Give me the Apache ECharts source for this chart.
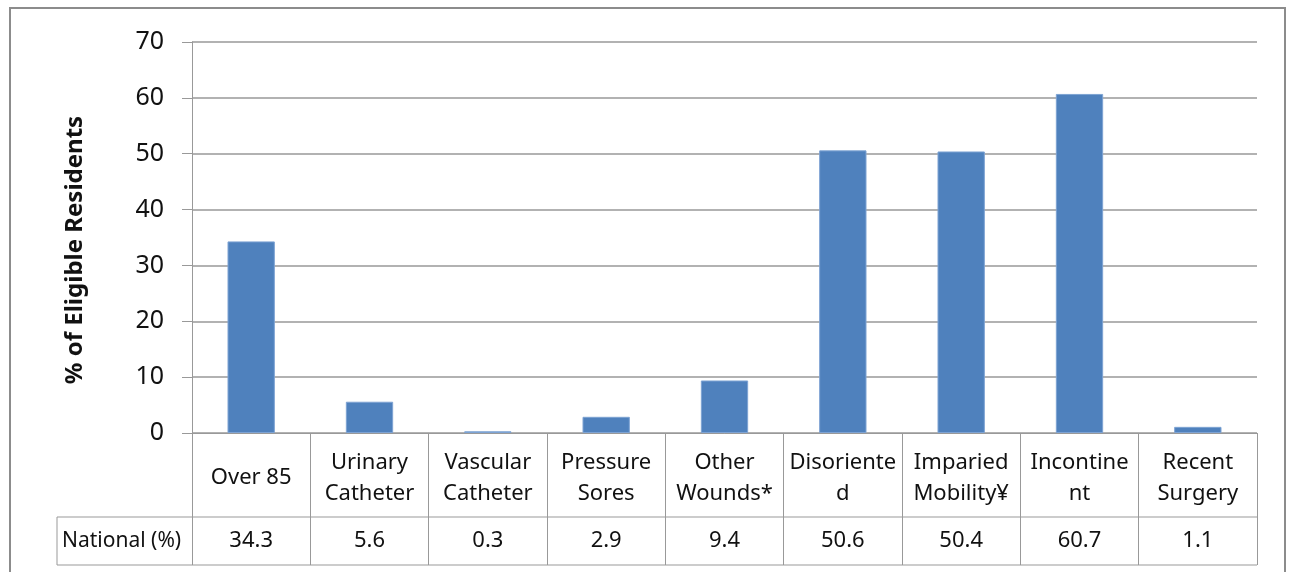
<!DOCTYPE html>
<html>
<head>
<meta charset="utf-8">
<script src="https://cdn.jsdelivr.net/npm/echarts@6/dist/echarts.min.js"></script>
<style>
  html, body { margin: 0; padding: 0; background: #ffffff; }
  #chart { width: 1290px; height: 572px; }
</style>
</head>
<body>
<div id="chart"></div>
<script>
// Resident characteristics, national share (%)
const categories = [
  'Over 85', 'Urinary Catheter', 'Vascular Catheter', 'Pressure Sores',
  'Other Wounds*', 'Disoriented', 'Imparied Mobility¥', 'Incontinent', 'Recent Surgery'
];
// Category text as wrapped in the table header cells
const categoryLabels = [
  'Over 85', 'Urinary\nCatheter', 'Vascular\nCatheter', 'Pressure\nSores',
  'Other\nWounds*', 'Disoriente\nd', 'Imparied\nMobility¥', 'Incontine\nnt', 'Recent\nSurgery'
];
const nationalPct = [34.3, 5.6, 0.3, 2.9, 9.4, 50.6, 50.4, 60.7, 1.1];
const rowTitle = 'National (%)';
const yTitle = '% of Eligible Residents';
const yMin = 0, yMax = 70, yStep = 10;

const FONT = '"Noto Sans", "Open Sans", sans-serif';
const LINE = '#999999';
const TEXT = '#111111';

const chart = echarts.init(document.getElementById('chart'), null, { renderer: 'canvas' });

// Plot box
const gridLeft = 192, gridRight = 33, gridTop = 42, gridBottom = 139;
const plotRight = 1290 - gridRight;      // 1257
const axisY = 572 - gridBottom;          // 433
const headerH = 84, valueRowH = 48;
const rowTop = axisY + headerH;          // 517
const rowBottom = rowTop + valueRowH;    // 565
const tableLeft = 57;

chart.setOption({
  animation: false,
  backgroundColor: '#ffffff',
  grid: { left: gridLeft, right: gridRight, top: gridTop, bottom: gridBottom, containLabel: false },
  xAxis: [
    {
      type: 'category',
      data: categoryLabels,
      position: 'bottom',
      boundaryGap: true,
      axisLine: { show: true, lineStyle: { color: LINE, width: 1 } },
      axisTick: { show: true, interval: 0, length: headerH + valueRowH, lineStyle: { color: LINE, width: 1 } },
      axisLabel: {
        interval: 0, margin: headerH / 2 + 3, verticalAlign: 'middle',
        fontFamily: FONT, fontSize: 22, lineHeight: 31, color: TEXT, align: 'center'
      },
      splitLine: { show: false }
    },
    {
      type: 'category',
      data: nationalPct.map(v => v.toFixed(1)),
      position: 'bottom',
      offset: headerH,
      boundaryGap: true,
      axisLine: { show: false },
      axisTick: { show: false },
      axisLabel: {
        interval: 0, margin: valueRowH / 2, verticalAlign: 'middle',
        fontFamily: FONT, fontSize: 22, color: TEXT, align: 'center'
      },
      splitLine: { show: false }
    }
  ],
  yAxis: {
    type: 'value',
    min: yMin, max: yMax, interval: yStep,
    axisLine: { show: true, lineStyle: { color: LINE, width: 1 } },
    axisTick: { show: true, length: 10, lineStyle: { color: LINE, width: 1 } },
    axisLabel: { margin: 28, fontFamily: FONT, fontSize: 25, color: TEXT },
    splitLine: { show: true, lineStyle: { color: LINE, width: 1.5 } }
  },
  series: [{
    type: 'bar',
    name: rowTitle,
    xAxisIndex: 0,
    data: nationalPct,
    barWidth: '40%',
    itemStyle: { color: '#4F81BD', borderColor: '#7ea3d3', borderWidth: 1 }
  }],
  graphic: [
    // chart frame
    { type: 'rect', silent: true, z: 0,
      shape: { x: 10, y: 8, width: 1275, height: 620 },
      style: { fill: 'none', stroke: '#8c8c8c', lineWidth: 2 } },
    // value-axis title, rotated
    { type: 'text', silent: true, x: 75, y: 250, rotation: Math.PI / 2,
      style: { text: yTitle, fontFamily: FONT, fontSize: 24, fontWeight: 'bold', fill: TEXT,
               textAlign: 'center', textVerticalAlign: 'middle' } },
    // data table rules
    { type: 'line', silent: true, shape: { x1: tableLeft, y1: rowTop, x2: plotRight, y2: rowTop },
      style: { stroke: LINE, lineWidth: 1 } },
    { type: 'line', silent: true, shape: { x1: tableLeft, y1: rowBottom, x2: plotRight, y2: rowBottom },
      style: { stroke: LINE, lineWidth: 1 } },
    { type: 'line', silent: true, shape: { x1: tableLeft, y1: rowTop, x2: tableLeft, y2: rowBottom },
      style: { stroke: LINE, lineWidth: 1 } },
    // row header
    { type: 'text', silent: true, x: tableLeft + 5, y: (rowTop + rowBottom) / 2,
      style: { text: rowTitle, fontFamily: FONT, fontSize: 21, fill: TEXT,
               textAlign: 'left', textVerticalAlign: 'middle' } }
  ]
});
</script>
</body>
</html>
